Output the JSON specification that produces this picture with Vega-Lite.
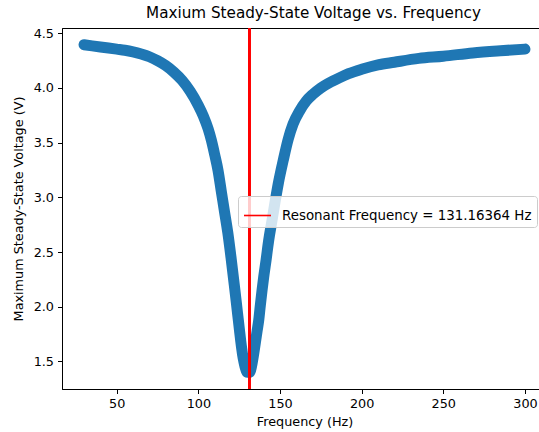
{
  "$schema": "https://vega.github.io/schema/vega-lite/v6.json",
  "autosize": {"type": "none"},
  "padding": {"left": 62, "top": 28, "right": 0, "bottom": 43},
  "width": 485,
  "height": 361,
  "background": "white",
  "title": {
    "text": "Maxium Steady-State Voltage vs. Frequency",
    "anchor": "middle",
    "dx": 9,
    "fontSize": 15.2,
    "fontWeight": "normal",
    "font": "DejaVu Sans",
    "color": "black",
    "offset": 6
  },
  "config": {
    "font": "DejaVu Sans",
    "view": {"stroke": "black", "strokeWidth": 1},
    "axis": {
      "grid": false,
      "domainColor": "black",
      "tickColor": "black",
      "tickSize": 4.5,
      "labelColor": "black",
      "labelFontSize": 12.8,
      "labelFont": "DejaVu Sans",
      "titleFont": "DejaVu Sans",
      "titleFontSize": 12.8,
      "titleFontWeight": "normal",
      "titleColor": "black"
    }
  },
  "data": {
    "values": [
      {"f": 30, "v": 4.395}, {"f": 35, "v": 4.385}, {"f": 40, "v": 4.375}, {"f": 45, "v": 4.365},
      {"f": 50, "v": 4.355}, {"f": 55, "v": 4.345}, {"f": 60, "v": 4.33}, {"f": 65, "v": 4.31},
      {"f": 70, "v": 4.285}, {"f": 75, "v": 4.25}, {"f": 80, "v": 4.205}, {"f": 85, "v": 4.145},
      {"f": 90, "v": 4.07}, {"f": 95, "v": 3.97}, {"f": 100, "v": 3.84}, {"f": 103, "v": 3.745},
      {"f": 106, "v": 3.625}, {"f": 108, "v": 3.52}, {"f": 110, "v": 3.39}, {"f": 112, "v": 3.25},
      {"f": 114, "v": 3.06}, {"f": 116, "v": 2.87}, {"f": 118, "v": 2.68}, {"f": 120, "v": 2.45},
      {"f": 122, "v": 2.2}, {"f": 124, "v": 1.94}, {"f": 125, "v": 1.81}, {"f": 126, "v": 1.68},
      {"f": 127, "v": 1.57}, {"f": 128, "v": 1.49}, {"f": 129, "v": 1.43}, {"f": 130, "v": 1.4},
      {"f": 131.2, "v": 1.4}, {"f": 132, "v": 1.42}, {"f": 133, "v": 1.49}, {"f": 134, "v": 1.58},
      {"f": 135, "v": 1.68}, {"f": 136, "v": 1.78}, {"f": 137, "v": 1.88}, {"f": 138, "v": 2.02},
      {"f": 140, "v": 2.27}, {"f": 141.5, "v": 2.43}, {"f": 143, "v": 2.6}, {"f": 145, "v": 2.78},
      {"f": 147, "v": 2.96}, {"f": 149, "v": 3.13}, {"f": 152, "v": 3.34}, {"f": 155, "v": 3.53},
      {"f": 158, "v": 3.67}, {"f": 162, "v": 3.79}, {"f": 166, "v": 3.88}, {"f": 170, "v": 3.94},
      {"f": 175, "v": 4.0}, {"f": 180, "v": 4.045}, {"f": 186, "v": 4.09}, {"f": 192, "v": 4.13},
      {"f": 200, "v": 4.17}, {"f": 210, "v": 4.21}, {"f": 220, "v": 4.235}, {"f": 235, "v": 4.27},
      {"f": 250, "v": 4.29}, {"f": 268, "v": 4.32}, {"f": 285, "v": 4.34}, {"f": 300, "v": 4.355}
    ]
  },
  "layer": [
    {
      "mark": {"type": "line", "color": "#1f77b4", "strokeWidth": 11, "strokeCap": "round", "strokeJoin": "round", "interpolate": "monotone"},
      "encoding": {
        "x": {
          "field": "f", "type": "quantitative",
          "scale": {"domain": [16.5, 313.5], "nice": false, "zero": false},
          "axis": {"title": "Frequency (Hz)", "values": [50, 100, 150, 200, 250, 300], "labelPadding": 4, "titlePadding": 5}
        },
        "y": {
          "field": "v", "type": "quantitative",
          "scale": {"domain": [1.248, 4.548], "nice": false, "zero": false},
          "axis": {"title": "Maximum Steady-State Voltage (V)", "values": [1.5, 2.0, 2.5, 3.0, 3.5, 4.0, 4.5], "format": ".1f", "labelPadding": 4, "titlePadding": 8}
        }
      }
    },
    {
      "mark": {"type": "rule", "strokeWidth": 1.6},
      "encoding": {
        "x": {"datum": 131.16364},
        "color": {
          "datum": "Resonant Frequency = 131.16364 Hz",
          "scale": {"range": ["red"]},
          "legend": {
            "title": null,
            "orient": "none",
            "legendX": 176,
            "legendY": 168,
            "fillColor": "rgba(255,255,255,0.8)",
            "strokeColor": "#cccccc",
            "cornerRadius": 3,
            "padding": 5,
            "symbolType": "stroke",
            "symbolSize": 729,
            "symbolStrokeWidth": 1.6,
            "labelFontSize": 13.4,
            "labelFont": "DejaVu Sans",
            "labelColor": "black",
            "labelOffset": 10,
            "labelLimit": 0
          }
        }
      }
    }
  ]
}
